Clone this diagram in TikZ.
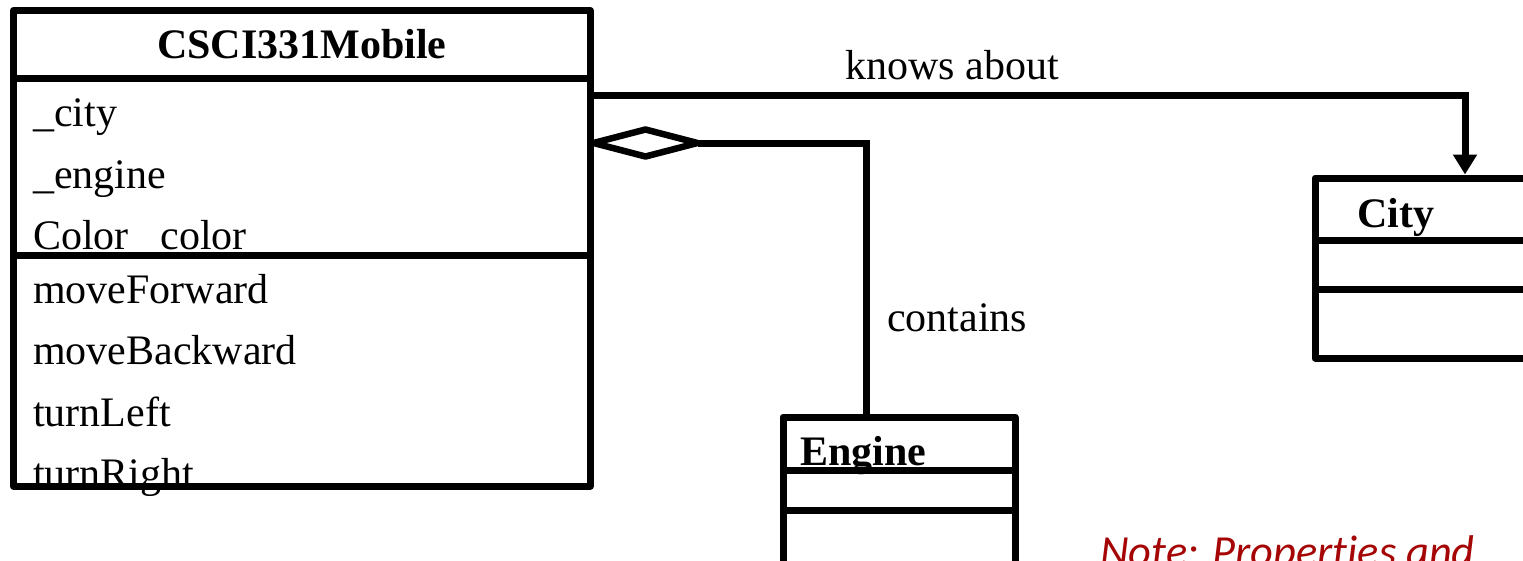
\documentclass[tikz,border=0pt]{standalone}
\usepackage{fontspec}
\setmainfont{Liberation Serif}
\newfontfamily\notefont[Ligatures={NoCommon}]{Carlito}
\usepackage{xcolor}
\usepackage{tikz}
\usetikzlibrary{shapes.geometric, arrows.meta, positioning, calc}
\definecolor{notered}{RGB}{165,5,5}
\newcommand{\umlsize}{\fontsize{42}{48}\selectfont}
\tikzset{
    classbox/.style={
        rectangle,
        draw=black,
        line width=7pt,
        line join=round,
        inner sep=0pt
    },
    compline/.style={
        draw=black,
        line width=7pt
    },
    member/.style={
        anchor=base west,
        inner sep=0pt,
        font=\umlsize
    },
    classname/.style={
        inner sep=0pt,
        font=\umlsize\bfseries
    },
    aggdiamond/.style={
        diamond,
        draw=black,
        line width=6.5pt,
        line join=round,
        inner sep=0pt,
        outer sep=0pt,
        minimum width=104pt,
        minimum height=27pt
    },
    assoc/.style={
        draw=black,
        line width=7pt
    },
    navarrow/.style={
        draw=black,
        line width=7pt,
        -{Triangle[length=20pt,width=23pt]}
    },
    notetext/.style={
        anchor=base west,
        inner sep=0pt,
        text=notered,
        font=\notefont\itshape\fontsize{44.4}{50}\selectfont
    }
}

\begin{document}
\begin{tikzpicture}[x=1pt, y=-1pt]
\useasboundingbox (0,0) rectangle (1523,560);

% CSCI331Mobile members
\node[classname, anchor=base] (mobilename) at (301.75,58) {CSCI331Mobile};
\node[member] (acity) at (33,126) {\_city};
\node[member] (aengine) at (33,188) {\_engine};
\node[member] (acolor) at (33,249) {Color \_color};
\node[member] (mfwd) at (33,303) {moveForward};
\node[member] (mback) at (33,364) {moveBackward};
\node[member] (mleft) at (33,426) {turnLeft};
\node[member] (mright) at (33,487) {turnRight};

% Engine and City names
\node[classname, anchor=base west] (enginename) at (800,465) {Engine};
\node[classname, anchor=base west] (cityname) at (1357,227) {City};

% Class boxes
\node[classbox, minimum width=576.5pt, minimum height=475.5pt] (mobile) at (301.75,248.25) {};
\draw[compline] (mobile.west |- 0,78.5) -- (mobile.east |- 0,78.5);
\draw[compline] (mobile.west |- 0,255.5) -- (mobile.east |- 0,255.5);

\node[classbox, minimum width=232pt, minimum height=183pt] (engine) at (899,508.5) {};
\draw[compline] (engine.west |- 0,470) -- (engine.east |- 0,470);
\draw[compline] (engine.west |- 0,510) -- (engine.east |- 0,510);

\node[classbox, minimum width=300pt, minimum height=180pt] (city) at (1465,268) {};
\draw[compline] (city.west |- 0,240) -- (city.east |- 0,240);
\draw[compline] (city.west |- 0,289) -- (city.east |- 0,289);

% knows about
\draw[navarrow] (mobile.east |- 0,95) -| (city.north);
\node[member] (knows) at (845,79) {knows about};

% contains
\node[aggdiamond, anchor=west] (agg) at (mobile.east |- 0,143) {};
\coordinate (enginein) at ($(engine.north west)!0.362!(engine.north east)$);
\draw[assoc] (agg.east) -| (enginein);
\node[member] (contains) at (887,331) {contains};

% Note
\node[notetext] (note) at (1100,566) {Note: Properties and};

\end{tikzpicture}
\end{document}
